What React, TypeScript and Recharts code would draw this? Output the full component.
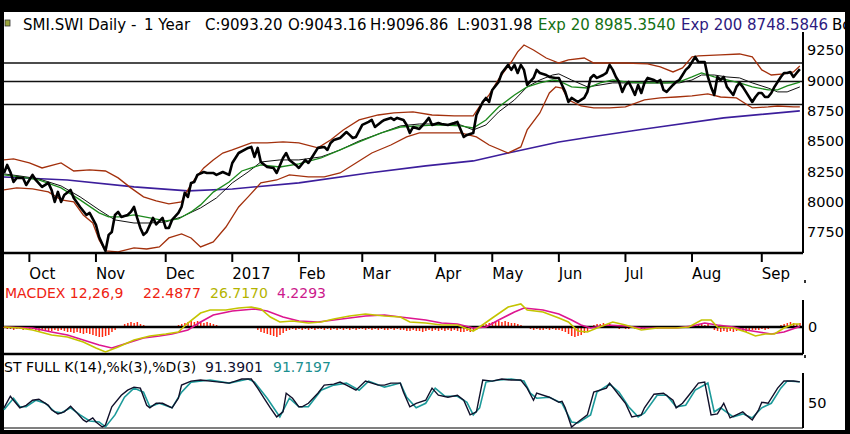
import React from 'react';
import { ComposedChart, Line, Bar, XAxis, YAxis, ReferenceLine } from 'recharts';

const FONT = '"DejaVu Sans", Verdana, sans-serif';

// ---- axis categories ----
const monthTicks = [8, 29, 51, 72, 93, 113, 136, 154, 175, 196, 217, 239];
const monthLabels = ['Oct', 'Nov', 'Dec', '2017', 'Feb', 'Mar', 'Apr', 'May', 'Jun', 'Jul', 'Aug', 'Sep'];
const priceTicks = [7750, 8000, 8250, 8500, 8750, 9000, 9250];
const levelLines = [9143, 8990, 8802];

// ---- price panel (trading day, value) ----
const price: [number, number][] = [
  [0, 8238], [1, 8304], [2, 8246], [3, 8164], [4, 8197], [6, 8197], [7, 8139], [9, 8222], [10, 8180], [12, 8123],
  [14, 8156], [15, 8098], [16, 7999], [17, 8082], [18, 7999], [19, 8057], [21, 8098], [22, 8032], [24, 7958], [26, 7892],
  [27, 7909], [29, 7810], [30, 7711], [32, 7596], [33, 7728], [34, 7752], [35, 7892], [36, 7917], [37, 7876], [39, 7892],
  [40, 7917], [41, 7958], [42, 7868], [43, 7785], [44, 7728], [45, 7752], [47, 7868], [48, 7815], [50, 7868], [51, 7785],
  [52, 7785], [53, 7851], [55, 7909], [56, 7958], [57, 8074], [58, 8041], [59, 8156], [60, 8164], [61, 8222], [63, 8246],
  [64, 8238], [66, 8238], [67, 8222], [69, 8246], [71, 8222], [72, 8320], [74, 8402], [77, 8444], [78, 8452], [79, 8370],
  [80, 8444], [81, 8328], [83, 8287], [85, 8279], [86, 8238], [88, 8361], [89, 8402], [90, 8345], [92, 8304], [93, 8279],
  [95, 8345], [96, 8320], [97, 8361], [99, 8444], [101, 8452], [102, 8427], [103, 8485], [104, 8509], [106, 8526], [108, 8575],
  [109, 8551], [110, 8526], [111, 8534], [113, 8633], [115, 8658], [116, 8674], [117, 8616], [119, 8658], [120, 8674], [122, 8691],
  [123, 8674], [124, 8691], [126, 8674], [127, 8633], [128, 8567], [129, 8616], [131, 8600], [133, 8658], [134, 8691], [135, 8633],
  [137, 8649], [138, 8641], [140, 8633], [142, 8649], [143, 8658], [145, 8534], [146, 8551], [148, 8567], [149, 8715], [151, 8822],
  [152, 8855], [153, 8822], [154, 8921], [156, 8987], [157, 9061], [159, 9127], [160, 9086], [161, 9127], [162, 9061], [163, 9127],
  [164, 9086], [165, 8962], [167, 9020], [168, 9086], [169, 9061], [171, 9044], [172, 9028], [174, 9020], [175, 9020], [176, 8962],
  [177, 8905], [178, 8822], [179, 8855], [181, 8822], [182, 8839], [183, 8855], [184, 8905], [185, 9020], [186, 9044], [187, 9020],
  [189, 9044], [190, 9061], [191, 9127], [192, 9086], [193, 9028], [194, 8987], [195, 8905], [196, 8962], [197, 8987], [198, 8937],
  [199, 8880], [200, 8962], [201, 8896], [202, 8979], [203, 9020], [205, 9003], [206, 8987], [207, 9003], [208, 8921], [209, 8905],
  [211, 8962], [212, 8987], [213, 9003], [214, 9044], [215, 9086], [216, 9110], [217, 9151], [218, 9193], [219, 9151], [221, 9151],
  [222, 9028], [223, 8946], [224, 8880], [225, 9028], [226, 9003], [227, 9028], [228, 8946], [230, 8880], [231, 8946], [232, 8979],
  [233, 8946], [234, 8905], [236, 8822], [237, 8863], [238, 8896], [239, 8896], [240, 8863], [241, 8863], [242, 8896], [243, 8946],
  [245, 9028], [246, 9061], [247, 9061], [248, 9069], [249, 9028], [250, 9061], [251, 9093],
];

const ema20: [number, number][] = [
  [0, 8222], [5, 8205], [11, 8180], [18, 8115], [24, 8016], [30, 7909], [33, 7876], [37, 7876], [41, 7892], [46, 7868],
  [51, 7843], [55, 7859], [59, 7917], [62, 7975], [66, 8080], [71, 8164], [75, 8254], [78, 8279], [81, 8304], [87, 8287],
  [93, 8312], [100, 8361], [106, 8427], [112, 8493], [119, 8567], [125, 8616], [131, 8625], [137, 8633], [144, 8625], [148, 8608],
  [152, 8674], [156, 8781], [161, 8880], [165, 8946], [169, 8979], [173, 9003], [175, 8995], [179, 8946], [184, 8937], [188, 8979],
  [192, 9003], [196, 8987], [201, 8979], [205, 8979], [209, 8979], [213, 8987], [217, 9028], [220, 9061], [224, 9028], [228, 9003],
  [232, 8979], [236, 8946], [241, 8921], [244, 8921], [247, 8954], [251, 8985],
];

const bbMid: [number, number][] = [
  [0, 8230], [5, 8213], [11, 8189], [18, 8131], [24, 8041], [30, 7934], [35, 7851], [41, 7826], [46, 7826], [51, 7835],
  [56, 7876], [62, 7950], [67, 8032], [72, 8156], [77, 8246], [81, 8328], [87, 8345], [93, 8345], [100, 8370], [106, 8427],
  [112, 8501], [119, 8567], [125, 8625], [131, 8641], [137, 8641], [144, 8633], [148, 8592], [152, 8633], [156, 8740], [161, 8839],
  [165, 8946], [169, 9003], [173, 9044], [175, 9053], [179, 9003], [184, 8946], [188, 8962], [192, 8979], [196, 8979], [201, 8979],
  [205, 8979], [209, 8979], [213, 8979], [217, 9003], [220, 9044], [224, 9044], [228, 9028], [232, 9020], [236, 8979], [241, 8937],
  [244, 8905], [247, 8905], [251, 8946],
];

const bbUpper: [number, number][] = [
  [0, 8345], [3, 8353], [8, 8320], [12, 8279], [18, 8320], [22, 8254], [27, 8263], [32, 8254], [36, 8197], [40, 8115],
  [44, 8041], [48, 8008], [52, 7983], [56, 7999], [57, 8057], [60, 8180], [63, 8279], [66, 8345], [69, 8402], [72, 8427],
  [78, 8485], [83, 8485], [88, 8493], [93, 8485], [99, 8444], [103, 8509], [107, 8592], [112, 8674], [118, 8715], [123, 8732],
  [129, 8740], [135, 8715], [142, 8707], [148, 8707], [150, 8785], [153, 8880], [156, 9011], [160, 9151], [162, 9234], [164, 9291],
  [167, 9250], [171, 9184], [175, 9143], [178, 9168], [183, 9184], [186, 9143], [191, 9143], [196, 9143], [203, 9135], [207, 9110],
  [211, 9069], [214, 9102], [217, 9193], [219, 9201], [226, 9209], [232, 9217], [236, 9193], [239, 9086], [242, 9044], [246, 9053],
  [249, 9069], [251, 9118],
];

const bbLower: [number, number][] = [
  [0, 8098], [4, 8115], [9, 8106], [14, 8082], [18, 8016], [22, 7999], [25, 7892], [28, 7826], [30, 7687], [32, 7596],
  [36, 7588], [41, 7621], [45, 7612], [49, 7629], [52, 7703], [56, 7736], [59, 7703], [62, 7629], [66, 7670], [70, 7793],
  [74, 7958], [77, 8041], [81, 8156], [86, 8180], [90, 8222], [96, 8205], [101, 8205], [106, 8238], [111, 8320], [116, 8402],
  [122, 8468], [127, 8534], [131, 8567], [137, 8567], [144, 8567], [149, 8534], [153, 8468], [159, 8402], [163, 8452], [165, 8592],
  [169, 8732], [172, 8896], [174, 8946], [176, 8937], [178, 8839], [182, 8789], [186, 8773], [191, 8773], [196, 8781], [202, 8839],
  [207, 8855], [212, 8863], [217, 8872], [222, 8888], [226, 8863], [231, 8855], [236, 8773], [241, 8781], [244, 8789], [249, 8781],
  [251, 8781],
];

const ema200: [number, number][] = [
  [0, 8205], [20, 8180], [41, 8123], [58, 8090], [72, 8106], [93, 8156], [115, 8238], [133, 8296], [148, 8337], [159, 8402],
  [175, 8493], [185, 8534], [201, 8596], [206, 8614], [227, 8691], [251, 8749],
];

// ---- MACD panel ----
const macdLine: [number, number][] = [
  [0, 0], [5, -9], [9, -27], [15, -72], [20, -90], [25, -135], [29, -189], [32, -225], [36, -180], [41, -117],
  [46, -81], [51, -63], [55, -45], [58, 36], [62, 126], [65, 153], [70, 153], [74, 171], [78, 180], [81, 162],
  [84, 90], [87, 45], [91, 54], [96, 36], [100, 45], [104, 72], [109, 99], [114, 117], [120, 99], [125, 90],
  [128, 45], [133, 36], [138, 18], [143, 18], [148, -36], [150, 0], [154, 81], [159, 180], [163, 207], [165, 153],
  [170, 135], [175, 81], [178, 45], [181, -36], [184, -45], [187, -9], [192, 45], [196, 18], [201, -27], [206, -9],
  [212, -9], [216, 0], [220, 63], [223, 63], [225, 0], [230, -9], [234, -45], [237, -81], [240, -63], [243, -63],
  [246, -9], [249, 27], [251, 27],
];

const macdSignal: [number, number][] = [
  [0, 0], [9, -9], [15, -45], [20, -72], [25, -117], [30, -162], [34, -189], [39, -144], [44, -99], [49, -81],
  [53, -63], [58, -27], [62, 45], [66, 108], [72, 144], [79, 162], [83, 144], [88, 90], [93, 54], [99, 45],
  [104, 63], [109, 81], [114, 99], [120, 108], [125, 90], [133, 63], [138, 36], [143, 27], [148, -9], [152, 0],
  [156, 63], [161, 135], [164, 171], [170, 153], [175, 117], [179, 63], [182, 18], [185, -9], [190, 18], [196, 9],
  [201, -9], [206, -9], [212, -9], [217, 9], [221, 36], [225, 18], [230, 0], [234, -27], [238, -45], [242, -63],
  [246, -45], [251, 4],
];

// histogram, one value per trading day (day 0 .. 251)
const macdHist: number[] = [
  -9, -18, -18, -27, -18, -18, -27, -18, -27, -18,
  -27, -36, -27, -36, -45, -36, -27, -36, -27, -36, -45,
  -45, -54, -45, -54, -63, -54, -63,
  -72, -81, -90, -90, -81, -72, -45,
  -27, -9, 9,
  27, 36, 45, 36, 45, 27, 18,
  9, -9, 0, -9, 9, 0, -9, 9, 0, 9, 18,
  27, 36, 45, 54, 45, 54, 45, 36, 45, 36, 27, 18,
  9, 9, 0, 9, -9, 0, -9, 0, 9, -9, 0, -9,
  -27, -45, -54, -63, -72, -81, -90, -72, -54, -36,
  -27, -18, -27, -18, -27, -18, -27, -18, -27, -18,
  -18, -27, -18, -27, -18, -27, -18, -27, -18, -27, -18, -27, -18,
  -18, -27, -18, -27, -18, -27, -18, -27, -27, -18, -27, -18, -27,
  -27, -36, -36, -27, -36, -36, -45, -36, -27, -36, -27, -36, -27, -36, -27, -36, -27, -36, -45, -45, -36, -45, -36, -27,
  9, 18, 27, 36, 45, 54, 54, 45, 54, 45, 36, 36, 27, 18, 9, 0,
  -18, -27, -18, -27, -27, -18, -27, -18, -27, -27, -36, -45,
  -63, -81, -90, -81, -72, -54, -36, -9,
  18, 27, 27, 36, 27, 27, 18, 9,
  -18, -9, -18, -18, -9, -18, -9, -18, -18, -9, -18, -9, -18, -9,
  -9, 0, -9, 0, 9, 0, -9, 0, 9, 9,
  18, 27, 27, 18, 27, 9,
  -27, -36, -45, -36, -45, -36, -45, -36, -27, -36, -45, -36, -27, -27,
  -27, -18, -27, -18, -9, -9,
  9, 18, 27, 36, 45, 36, 27, 36,
];

// ---- Full stochastic panel ----
const stochK: [number, number][] = [
  [0, 40], [2, 63], [3, 55], [5, 40], [7, 45], [9, 55], [11, 57], [14, 45], [15, 36], [17, 28],
  [19, 32], [21, 43], [23, 30], [25, 16], [26, 12], [28, 20], [29, 12], [31, 2], [32, 6], [34, 42],
  [37, 65], [39, 75], [41, 81], [43, 79], [45, 45], [46, 40], [48, 49], [50, 49], [53, 40], [55, 59],
  [56, 85], [59, 93], [62, 95], [65, 93], [68, 91], [71, 89], [73, 93], [75, 97], [78, 97], [80, 79],
  [82, 59], [84, 40], [86, 22], [88, 32], [89, 69], [91, 59], [93, 42], [94, 42], [96, 49], [99, 69],
  [101, 85], [104, 87], [106, 91], [108, 85], [111, 75], [114, 93], [118, 85], [120, 85], [122, 89], [125, 89],
  [126, 71], [128, 42], [130, 49], [133, 55], [135, 79], [137, 65], [140, 61], [143, 65], [145, 55], [147, 26],
  [149, 32], [151, 95], [154, 93], [157, 97], [160, 95], [163, 95], [165, 79], [167, 55], [168, 69], [172, 61],
  [175, 51], [176, 53], [177, 40], [179, 2], [181, 12], [184, 26], [186, 71], [190, 79], [191, 89], [194, 65],
  [196, 49], [198, 22], [201, 26], [202, 40], [205, 67], [208, 69], [211, 55], [212, 40], [214, 49], [216, 65],
  [219, 89], [221, 91], [223, 26], [225, 28], [227, 49], [229, 20], [231, 26], [233, 32], [234, 26], [236, 16],
  [238, 36], [239, 51], [241, 49], [244, 79], [246, 93], [249, 93], [251, 91.39],
];

const stochD: [number, number][] = [
  [0, 36], [3, 59], [5, 42], [7, 42], [10, 55], [13, 49], [16, 32], [18, 30], [21, 40], [24, 26],
  [27, 14], [30, 12], [32, 2], [35, 26], [38, 61], [41, 79], [44, 71], [46, 42], [49, 49], [53, 40],
  [56, 71], [59, 91], [65, 95], [71, 89], [77, 97], [79, 91], [83, 59], [87, 22], [90, 59], [93, 42],
  [96, 42], [100, 75], [104, 85], [108, 89], [112, 75], [115, 93], [120, 81], [125, 89], [127, 61], [130, 40],
  [133, 49], [136, 79], [139, 63], [143, 63], [146, 51], [148, 26], [150, 40], [152, 91], [156, 95], [160, 97],
  [164, 93], [166, 69], [168, 59], [172, 61], [176, 49], [179, 12], [181, 10], [185, 26], [187, 71], [191, 87],
  [194, 71], [197, 42], [200, 22], [202, 30], [206, 65], [209, 65], [212, 42], [215, 45], [218, 75], [222, 89],
  [224, 32], [226, 40], [230, 22], [233, 28], [236, 20], [239, 40], [242, 49], [245, 79], [247, 93], [251, 91.72],
];

function buildRows(series: Record<string, [number, number][]>) {
  const map = new Map<number, any>();
  Object.entries(series).forEach(([key, pts]) => {
    pts.forEach(([d, v]) => {
      if (!map.has(d)) map.set(d, { d });
      map.get(d)[key] = v;
    });
  });
  return Array.from(map.values()).sort((a, b) => a.d - b.d);
}

const mainRows = buildRows({ price, ema20, bbMid, bbUpper, bbLower, ema200 });
const macdRows = buildRows({
  macdLine,
  macdSignal,
  macdHist: macdHist.map((v, d) => [d, v] as [number, number]),
});
const stochRows = buildRows({ stochK, stochD });

const MonthTick = (props: any) => {
  const { x, y, payload } = props;
  const i = monthTicks.indexOf(payload.value);
  return (
    <text x={x} y={y + 15} textAnchor="start" fontSize={15} fontFamily={FONT} fill="#000">
      {monthLabels[i]}
    </text>
  );
};

const tickStyle = { fontSize: 14.5, fill: '#000', fontFamily: FONT };
const BAND = '#a3300c';

export default function App() {
  return (
    <div style={{ position: 'fixed', left: 0, top: 0, width: 850, height: 434, background: '#000', overflow: 'hidden' }}>
      <div style={{ position: 'absolute', left: 4, top: 12, width: 841, height: 418, background: '#fff' }} />

      {/* main price panel */}
      <div style={{ position: 'absolute', left: 0, top: 0 }}>
        <ComposedChart width={850} height={285} data={mainRows} margin={{ top: 32, right: 5, bottom: 0, left: 4 }}>
          <XAxis
            type="number"
            dataKey="d"
            domain={[0, 252]}
            ticks={monthTicks}
            interval={0}
            height={32}
            tickSize={9}
            tickMargin={2}
            tickLine={{ stroke: '#000', strokeWidth: 2 }}
            axisLine={{ stroke: '#000', strokeWidth: 2.5 }}
            tick={(p: any) => <MonthTick {...p} />}
          />
          <YAxis
            orientation="right"
            domain={[7579, 9398]}
            ticks={priceTicks}
            width={42}
            tickSize={2}
            tickMargin={2}
            tickLine={false}
            axisLine={{ stroke: '#000', strokeWidth: 2 }}
            tick={tickStyle}
            interval={0}
          />
          {levelLines.map((v) => (
            <ReferenceLine key={v} y={v} stroke="#111" strokeWidth={1.5} />
          ))}
          <Line dataKey="ema200" stroke="#3c1e9c" strokeWidth={1.6} dot={false} activeDot={false} connectNulls isAnimationActive={false} />
          <Line dataKey="bbUpper" stroke={BAND} strokeWidth={1.3} dot={false} activeDot={false} connectNulls isAnimationActive={false} />
          <Line dataKey="bbLower" stroke={BAND} strokeWidth={1.3} dot={false} activeDot={false} connectNulls isAnimationActive={false} />
          <Line dataKey="bbMid" stroke="#111" strokeWidth={1} dot={false} activeDot={false} connectNulls isAnimationActive={false} />
          <Line dataKey="ema20" stroke="#1d8a1d" strokeWidth={1.3} dot={false} activeDot={false} connectNulls isAnimationActive={false} />
          <Line dataKey="price" stroke="#000" strokeWidth={2.6} strokeLinejoin="round" dot={false} activeDot={false} connectNulls isAnimationActive={false} />
        </ComposedChart>
      </div>

      {/* MACD panel */}
      <div style={{ position: 'absolute', left: 0, top: 285 }}>
        <ComposedChart width={850} height={75} data={macdRows} margin={{ top: 15, right: 5, bottom: 6, left: 4 }}>
          <XAxis type="number" dataKey="d" domain={[0, 252]} hide />
          <YAxis
            orientation="right"
            domain={[-243, 243]}
            ticks={[0]}
            width={42}
            tickSize={2}
            tickMargin={3}
            tickLine={false}
            axisLine={{ stroke: '#000', strokeWidth: 2 }}
            tick={tickStyle}
          />
          <Bar dataKey="macdHist" fill="#ff2a10" barSize={1.5} isAnimationActive={false} />
          <ReferenceLine y={0} stroke="#000" strokeWidth={2.5} />
          <ReferenceLine y={-243} stroke="#000" strokeWidth={2.5} />
          <Line dataKey="macdSignal" stroke="#dd1590" strokeWidth={1.6} dot={false} activeDot={false} connectNulls isAnimationActive={false} />
          <Line dataKey="macdLine" stroke="#c4c400" strokeWidth={1.6} dot={false} activeDot={false} connectNulls isAnimationActive={false} />
        </ComposedChart>
      </div>

      {/* Stochastic panel */}
      <div style={{ position: 'absolute', left: 0, top: 360 }}>
        <ComposedChart width={850} height={70} data={stochRows} margin={{ top: 13, right: 5, bottom: 2, left: 4 }}>
          <XAxis type="number" dataKey="d" domain={[0, 252]} hide />
          <YAxis
            orientation="right"
            domain={[0, 109]}
            ticks={[50]}
            width={42}
            tickSize={2}
            tickMargin={3}
            tickLine={false}
            axisLine={{ stroke: '#000', strokeWidth: 2 }}
            tick={tickStyle}
          />
          <ReferenceLine y={0} stroke="#555" strokeWidth={1.5} />
          <Line dataKey="stochD" stroke="#1c9a9a" strokeWidth={1.6} dot={false} activeDot={false} connectNulls isAnimationActive={false} />
          <Line dataKey="stochK" stroke="#10102a" strokeWidth={1.4} dot={false} activeDot={false} connectNulls isAnimationActive={false} />
        </ComposedChart>
      </div>

      {/* text overlay */}
      <svg width={850} height={434} style={{ position: 'absolute', left: 0, top: 0, pointerEvents: 'none' }}>
        <rect x={5} y={20} width={5} height={6} fill="#9aa43a" stroke="#333" strokeWidth={0.8} />
        <rect x={804} y={280} width={2} height={3} fill="#333" />
        <rect x={804} y={355} width={2} height={3} fill="#333" />
        <g fontFamily={FONT} fontSize={15} fill="#000">
          <text x={23} y={29.5}>SMI.SWI Daily -</text>
          <text x={144} y={29.5}>1 Year</text>
          <text x={205} y={29.5}>C:9093.20</text>
          <text x={288} y={29.5}>O:9043.16</text>
          <text x={370} y={29.5}>H:9096.86</text>
          <text x={457} y={29.5}>L:9031.98</text>
          <text x={538} y={29.5} fill="#137013">Exp 20 8985.3540</text>
          <text x={681} y={29.5} fill="#2d1a80">Exp 200 8748.5846</text>
          <text x={832} y={29.5}>Bo</text>
        </g>
        <g fontFamily={FONT} fontSize={14}>
          <text x={5} y={297.5} fill="#ee2211">MACDEX 12,26,9</text>
          <text x={143} y={297.5} fill="#ee2211">22.4877</text>
          <text x={210} y={297.5} fill="#b4b400">26.7170</text>
          <text x={277} y={297.5} fill="#cc1a8c">4.2293</text>
          <text x={4} y={371.5} fill="#000">ST FULL K(14),%k(3),%D(3)</text>
          <text x={205} y={371.5} fill="#101030">91.3901</text>
          <text x={273} y={371.5} fill="#1a8f8f">91.7197</text>
        </g>
        <rect x={845} y={0} width={5} height={434} fill="#000" />
      </svg>
    </div>
  );
}
